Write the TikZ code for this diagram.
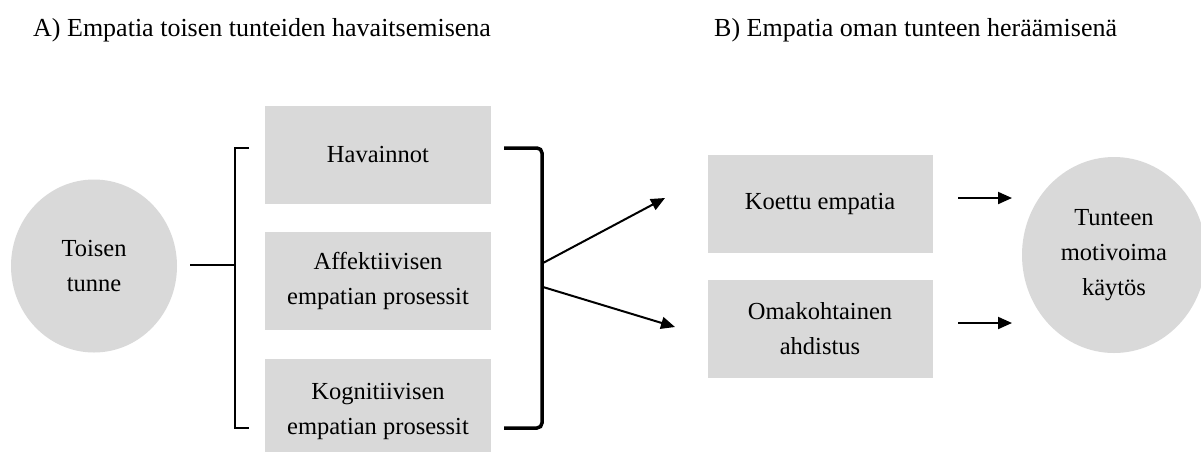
\documentclass[tikz,border=0pt]{standalone}
\usepackage{fontspec}
\setmainfont{Liberation Serif}
\usetikzlibrary{arrows.meta,shapes.geometric}
\definecolor{boxgray}{HTML}{D9D9D9}
\tikzset{
  txt/.style={font=\fontsize{24.5}{35}\selectfont},
  box/.style={txt, fill=boxgray, minimum width=226pt, minimum height=98pt, align=center, inner sep=0pt},
  oval/.style={txt, ellipse, fill=boxgray, align=center, inner sep=0pt},
  conn/.style={line width=2pt},
  brack/.style={line width=3.5pt, rounded corners=5pt},
  arr/.style={line width=2pt, -{Triangle[length=14pt,width=12pt]}},
  title/.style={font=\fontsize{26}{36}\selectfont, anchor=base west, inner sep=0pt},
}
\begin{document}
\begin{tikzpicture}[x=1pt,y=-1pt]
\clip (0,0) rectangle (1201,451);
\fill[white] (0,0) rectangle (1201,451);
% titles
\node[title] (ta) at (33,36) {A) Empatia toisen tunteiden havaitsemisena};
\node[title] (tb) at (714,36) {B) Empatia oman tunteen heräämisenä};
% nodes
\node[oval, minimum width=166pt, minimum height=173pt] (toisen) at (94,266) {Toisen\\tunne};
\node[box] (hav) at (378,155) {Havainnot};
\node[box] (aff) at (378,281) {Affektiivisen\\empatian prosessit};
\node[box, minimum height=104pt] (kog) at (378,411) {Kognitiivisen\\empatian prosessit};
\node[box, minimum width=225pt] (koe) at (820,204) {Koettu empatia};
\node[box, minimum width=225pt] (oma) at (820,329) {Omakohtainen\\ahdistus};
\node[oval, minimum width=184pt, minimum height=196pt] (tun) at (1114,255) {Tunteen\\motivoima\\käytös};
% left bracket
\coordinate (lin) at (190,265);
\coordinate (lt) at (249,148);
\coordinate (lb) at (249,428);
\coordinate (lm) at (235,265);
\draw[conn] (lin) -- (lm);
\draw[conn] (lt) -- (235,148) -- (235,428) -- (lb);
% right bracket
\coordinate (rt) at (504,148);
\coordinate (rb) at (504,428);
\coordinate (r1) at (543,263);
\coordinate (r2) at (543,287);
\draw[brack] (rt) -- (542,148) -- (542,428) -- (rb);
% arrows
\coordinate (a1) at (665,198);
\coordinate (a2) at (675,327);
\draw[arr] (r1) -- (a1);
\draw[arr] (r2) -- (a2);
\coordinate (k1) at (958,198);
\coordinate (k2) at (958,323);
\coordinate (e1) at (1012,198);
\coordinate (e2) at (1012,323);
\draw[arr] (k1) -- (e1);
\draw[arr] (k2) -- (e2);
\end{tikzpicture}
\end{document}
